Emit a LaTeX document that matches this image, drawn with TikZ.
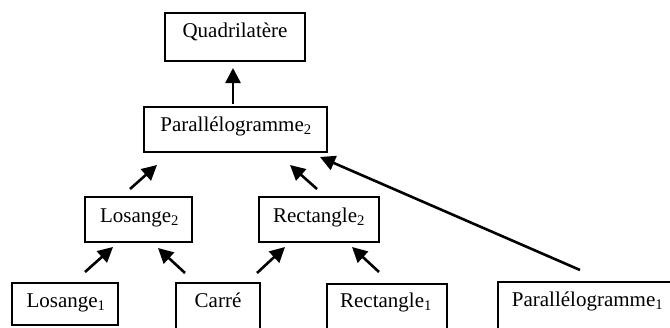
\documentclass[tikz,border=0pt]{standalone}
\usepackage{fontspec}
\setmainfont{Liberation Serif}
\usetikzlibrary{arrows.meta}

\tikzset{
  box/.style={draw, line width=2pt, rectangle, inner sep=0pt},
  lbl/.style={anchor=base, inner sep=0pt, font=\fontsize{21}{25}\selectfont},
  arr/.style={line width=2.6pt, -{Triangle[length=15pt,width=15pt]}}
}

\begin{document}
\begin{tikzpicture}[x=1pt,y=-1pt]
  \useasboundingbox (0,0) rectangle (670,327);
  \clip (0,0) rectangle (670,327);

  % boxes
  \node[box, minimum width=140pt, minimum height=48pt] (quad)  at (235,37)    {};
  \node[box, minimum width=183pt, minimum height=45pt] (para2) at (235.5,129.5) {};
  \node[box, minimum width=107pt, minimum height=45pt] (los2)  at (138.5,219.5) {};
  \node[box, minimum width=120pt, minimum height=45pt] (rect2) at (319,219.5) {};
  \node[box, minimum width=106pt, minimum height=42pt] (los1)  at (65,304)    {};
  \node[box, minimum width=84pt,  minimum height=52pt] (carre) at (218,309)   {};
  \node[box, minimum width=120pt, minimum height=52pt] (rect1) at (387,310)   {};
  \node[box, minimum width=179pt, minimum height=52pt] (para1) at (587.5,308) {};

  % labels
  \node[lbl] (quadT)  at (235,37)   {Quadrilatère};
  \node[lbl] (para2T) at (236,131)  {Parallélogramme\textsubscript{2}};
  \node[lbl] (los2T)  at (139.5,222) {Losange\textsubscript{2}};
  \node[lbl] (rect2T) at (319,222)  {Rectangle\textsubscript{2}};
  \node[lbl] (los1T)  at (66,307)   {Losange\textsubscript{1}};
  \node[lbl] (carreT) at (218,307)  {Carré};
  \node[lbl] (rect1T) at (386,307)  {Rectangle\textsubscript{1}};
  \node[lbl] (para1T) at (587.5,306) {Parallélogramme\textsubscript{1}};

  % arrow end points
  \coordinate (p2q-a) at (233,104);  \coordinate (p2q-b) at (233,68);
  \coordinate (l2p-a) at (130,189);  \coordinate (l2p-b) at (157,165);
  \coordinate (r2p-a) at (317,189);  \coordinate (r2p-b) at (290,165);
  \coordinate (l1l-a) at (85,272);   \coordinate (l1l-b) at (113,247);
  \coordinate (cl-a)  at (185,273);  \coordinate (cl-b)  at (158,248);
  \coordinate (cr-a)  at (257,273);  \coordinate (cr-b)  at (285,247);
  \coordinate (r1r-a) at (379,272);  \coordinate (r1r-b) at (352,247);
  \coordinate (p1p-a) at (580,270);  \coordinate (p1p-b) at (320,157);

  % inheritance arrows
  \draw[arr] (p2q-a) -- (p2q-b);
  \draw[arr] (l2p-a) -- (l2p-b);
  \draw[arr] (r2p-a) -- (r2p-b);
  \draw[arr] (l1l-a) -- (l1l-b);
  \draw[arr] (cl-a)  -- (cl-b);
  \draw[arr] (cr-a)  -- (cr-b);
  \draw[arr] (r1r-a) -- (r1r-b);
  \draw[arr] (p1p-a) -- (p1p-b);
\end{tikzpicture}
\end{document}
